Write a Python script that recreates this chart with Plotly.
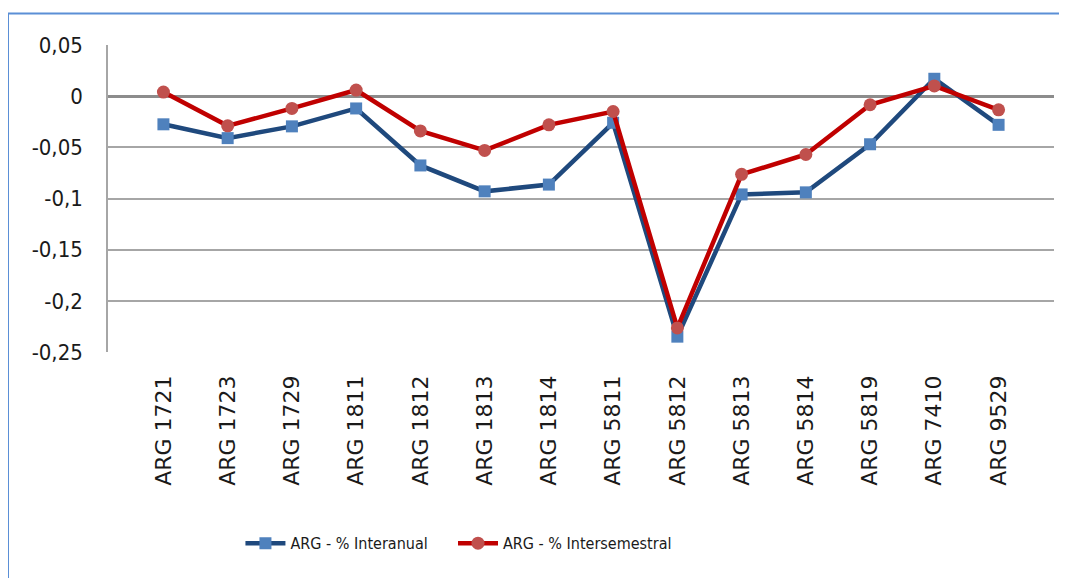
import plotly.graph_objects as go

categories = ["ARG 1721", "ARG 1723", "ARG 1729", "ARG 1811", "ARG 1812", "ARG 1813", "ARG 1814",
              "ARG 5811", "ARG 5812", "ARG 5813", "ARG 5814", "ARG 5819", "ARG 7410", "ARG 9529"]
interanual = [-0.0275, -0.041, -0.0295, -0.012, -0.0677, -0.093, -0.0864,
              -0.026, -0.235, -0.096, -0.094, -0.047, 0.017, -0.028]
intersemestral = [0.004, -0.029, -0.012, 0.006, -0.034, -0.053, -0.028,
                  -0.015, -0.2265, -0.0764, -0.057, -0.0084, 0.010, -0.0133]
y_ticks = [0.05, 0, -0.05, -0.1, -0.15, -0.2, -0.25]
y_tick_text = ["0,05", "0", "-0,05", "-0,1", "-0,15", "-0,2", "-0,25"]

NARROW = "DejaVu Sans Condensed, Liberation Sans Narrow, sans-serif"

fig = go.Figure()
fig.add_trace(go.Scatter(
    x=categories, y=interanual, name="ARG - % Interanual", mode="lines+markers",
    line=dict(color="#1F497D", width=4.5),
    marker=dict(symbol="square", size=12, color="#4F81BD"),
    legend="legend",
))
fig.add_trace(go.Scatter(
    x=categories, y=intersemestral, name="ARG - % Intersemestral", mode="lines+markers",
    line=dict(color="#C00000", width=4.5),
    marker=dict(symbol="circle", size=13, color="#C0504D"),
    legend="legend2",
))

# outer chart border (partially visible)
fig.add_shape(type="line", xref="paper", yref="paper",
              x0=-0.1057, x1=-0.1057, y0=1.103, y1=-0.8, line=dict(color="#5B8FD6", width=2))
fig.add_shape(type="line", xref="paper", yref="paper",
              x0=-0.1057, x1=1.1, y0=1.103, y1=1.103, line=dict(color="#5B8FD6", width=2))

legend_style = dict(orientation="h", y=-0.623, xanchor="left", yanchor="middle",
                    font=dict(family=NARROW, size=16, color="#1a1a1a"),
                    itemwidth=40, bgcolor="rgba(0,0,0,0)")

fig.update_layout(
    width=1059, height=570,
    margin=dict(l=100, r=13, t=37, b=226),
    paper_bgcolor="white", plot_bgcolor="white",
    showlegend=True,
    legend=dict(x=0.14, **legend_style),
    legend2=dict(x=0.3647, **legend_style),
    xaxis=dict(
        type="category", tickangle=-90, showgrid=False, ticks="",
        tickfont=dict(family="DejaVu Sans", size=22, color="#1a1a1a"),
        ticklabelstandoff=18, showline=False, zeroline=False,
    ),
    yaxis=dict(
        range=[-0.25, 0.05], tickvals=y_ticks, ticktext=y_tick_text,
        showgrid=True, gridcolor="#A6A6A6", gridwidth=1.5,
        zeroline=True, zerolinecolor="#8C8C8C", zerolinewidth=2.5,
        showline=True, linecolor="#A6A6A6", linewidth=1.5, ticks="",
        tickfont=dict(family=NARROW, size=22, color="#1a1a1a"),
        ticklabelstandoff=19,
    ),
)

fig.write_html("out.html")
